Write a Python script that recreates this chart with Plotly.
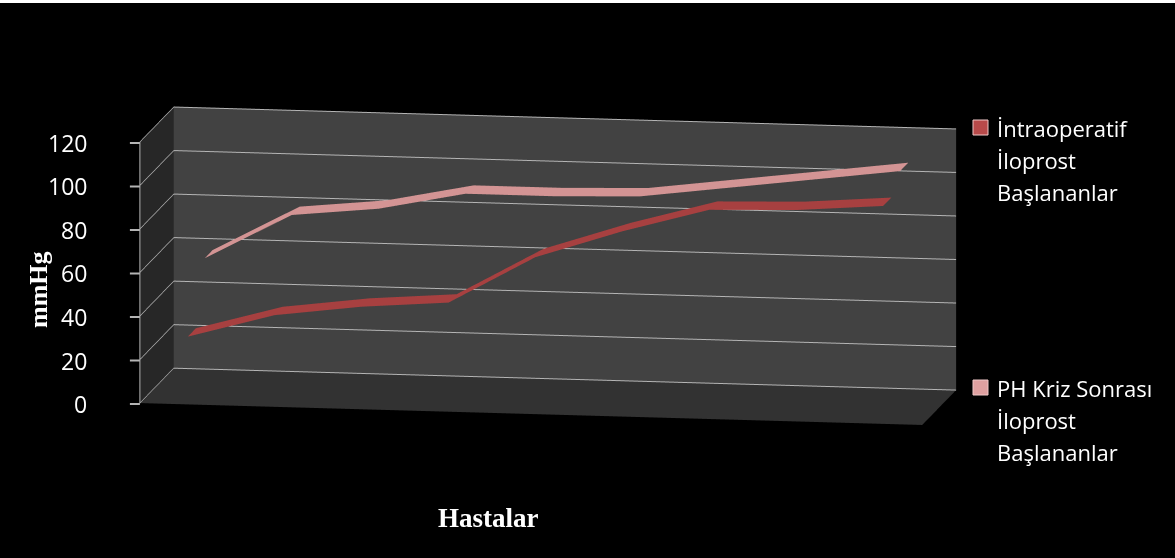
import plotly.graph_objects as go

# Patients (categories along the back wall)
patients = [1, 2, 3, 4, 5, 6, 7, 8, 9]

# mmHg values per patient
intraop = [29, 40, 45, 48, 70, 83, 94, 95, 98]
ph_kriz = [57, 78, 82, 90, 90, 91, 96, 101, 106]

series_lines = [
    ["İntraoperatif", "İloprost", "Başlananlar"],
    ["PH Kriz Sonrası", "İloprost", "Başlananlar"],
]
z_ticks = [0, 20, 40, 60, 80, 100, 120]

# depth slot of each series (front, back) and ribbon thickness
slots = [0.5, 1.5]
ribbon_w = 0.48
ribbon_colors = ["#b04343", "#de9c9c"]
legend_colors = ["#b84a4a", "#dfa0a0"]


def ribbon(values, slot, color, name):
    ys = [slot - ribbon_w / 2, slot + ribbon_w / 2]
    return go.Surface(
        x=patients, y=ys, z=[values, values],
        colorscale=[[0, color], [1, color]], showscale=False,
        name=name, hoverinfo="skip",
        lighting=dict(ambient=0.95, diffuse=0.25, specular=0.05, roughness=0.8),
        lightposition=dict(x=100, y=-1000, z=10000),
    )


fig = go.Figure()
fig.add_trace(ribbon(intraop, slots[0], ribbon_colors[0], " ".join(series_lines[0])))
fig.add_trace(ribbon(ph_kriz, slots[1], ribbon_colors[1], " ".join(series_lines[1])))

grid = "#b4b4b4"
tick_font = dict(family="Open Sans", size=23, color="white")

# value labels with short tick marks along the front-left vertical edge
tick_labels = [
    dict(x=0.5, y=0, z=v, text=str(v), showarrow=True,
         arrowhead=0, arrowwidth=2, arrowcolor=grid,
         ax=-10, ay=0,
         xanchor="right", yanchor="middle", borderpad=42, yshift=-1,
         font=tick_font)
    for v in z_ticks
]

fig.update_layout(
    width=1175, height=558,
    margin=dict(l=0, r=0, t=0, b=0),
    paper_bgcolor="black",
    showlegend=False,
    scene=dict(
        domain=dict(x=[0.0, 0.9328], y=[0.0483, 0.9983]),
        aspectmode="manual",
        aspectratio=dict(x=2.992, y=0.786, z=1.0),
        xaxis=dict(range=[0.5, 9.5], showgrid=False, showticklabels=False,
                   title=dict(text=""), showbackground=True,
                   backgroundcolor="#272727", showspikes=False,
                   zeroline=False, showline=False, ticks=""),
        yaxis=dict(range=[0, 2], showgrid=False, showticklabels=False,
                   title=dict(text=""), showbackground=True,
                   backgroundcolor="#424242", showspikes=False,
                   zeroline=False, showline=False, ticks=""),
        zaxis=dict(range=[0, 120], tickvals=z_ticks, showgrid=True,
                   gridcolor=grid, gridwidth=2, showticklabels=False,
                   title=dict(text=""), showbackground=True,
                   backgroundcolor="#323232", showspikes=False,
                   zeroline=False, showline=True, linecolor=grid, linewidth=2,
                   ticks=""),
        camera=dict(
            projection=dict(type="orthographic"),
            eye=dict(x=0.3875, y=-2.350, z=0.4104),
            center=dict(x=0, y=0, z=0),
            up=dict(x=0, y=0, z=1),
        ),
        bgcolor="black",
        annotations=tick_labels,
    ),
)

annotations = [
    dict(text="<b>mmHg</b>", x=38, y=290, textangle=-90,
         font=dict(family="Liberation Serif", size=26, color="white")),
    dict(text="<b>Hastalar</b>", x=488, y=518,
         font=dict(family="Liberation Serif", size=27, color="white")),
]

# legend text lines
legend_top = [128, 388]
for k, lines in enumerate(series_lines):
    for i, line in enumerate(lines):
        annotations.append(dict(
            text=line, x=995, y=legend_top[k] + 32 * i, xanchor="left",
            font=dict(family="Open Sans", size=22, color="white")))

for a in annotations:
    a.setdefault("xanchor", "center")
    a["xref"] = "paper"
    a["yref"] = "paper"
    a["x"] = a["x"] / 1175
    a["y"] = 1 - a["y"] / 558
    a["yanchor"] = "middle"
    a["showarrow"] = False
fig.update_layout(annotations=annotations)

shapes = []
for k, c in enumerate(legend_colors):
    top = legend_top[k] - 8
    shapes.append(dict(type="rect", xref="paper", yref="paper",
                       x0=973 / 1175, x1=988 / 1175,
                       y0=1 - (top + 15) / 558, y1=1 - top / 558,
                       fillcolor=c, line=dict(color="#f0c8c8", width=1)))
# thin white strip along the top edge
shapes.append(dict(type="rect", xref="paper", yref="paper", x0=0, x1=1,
                   y0=1 - 3 / 558, y1=1, fillcolor="white", line=dict(width=0)))
fig.update_layout(shapes=shapes)

fig.write_html("out.html", config=dict(displayModeBar=False))
